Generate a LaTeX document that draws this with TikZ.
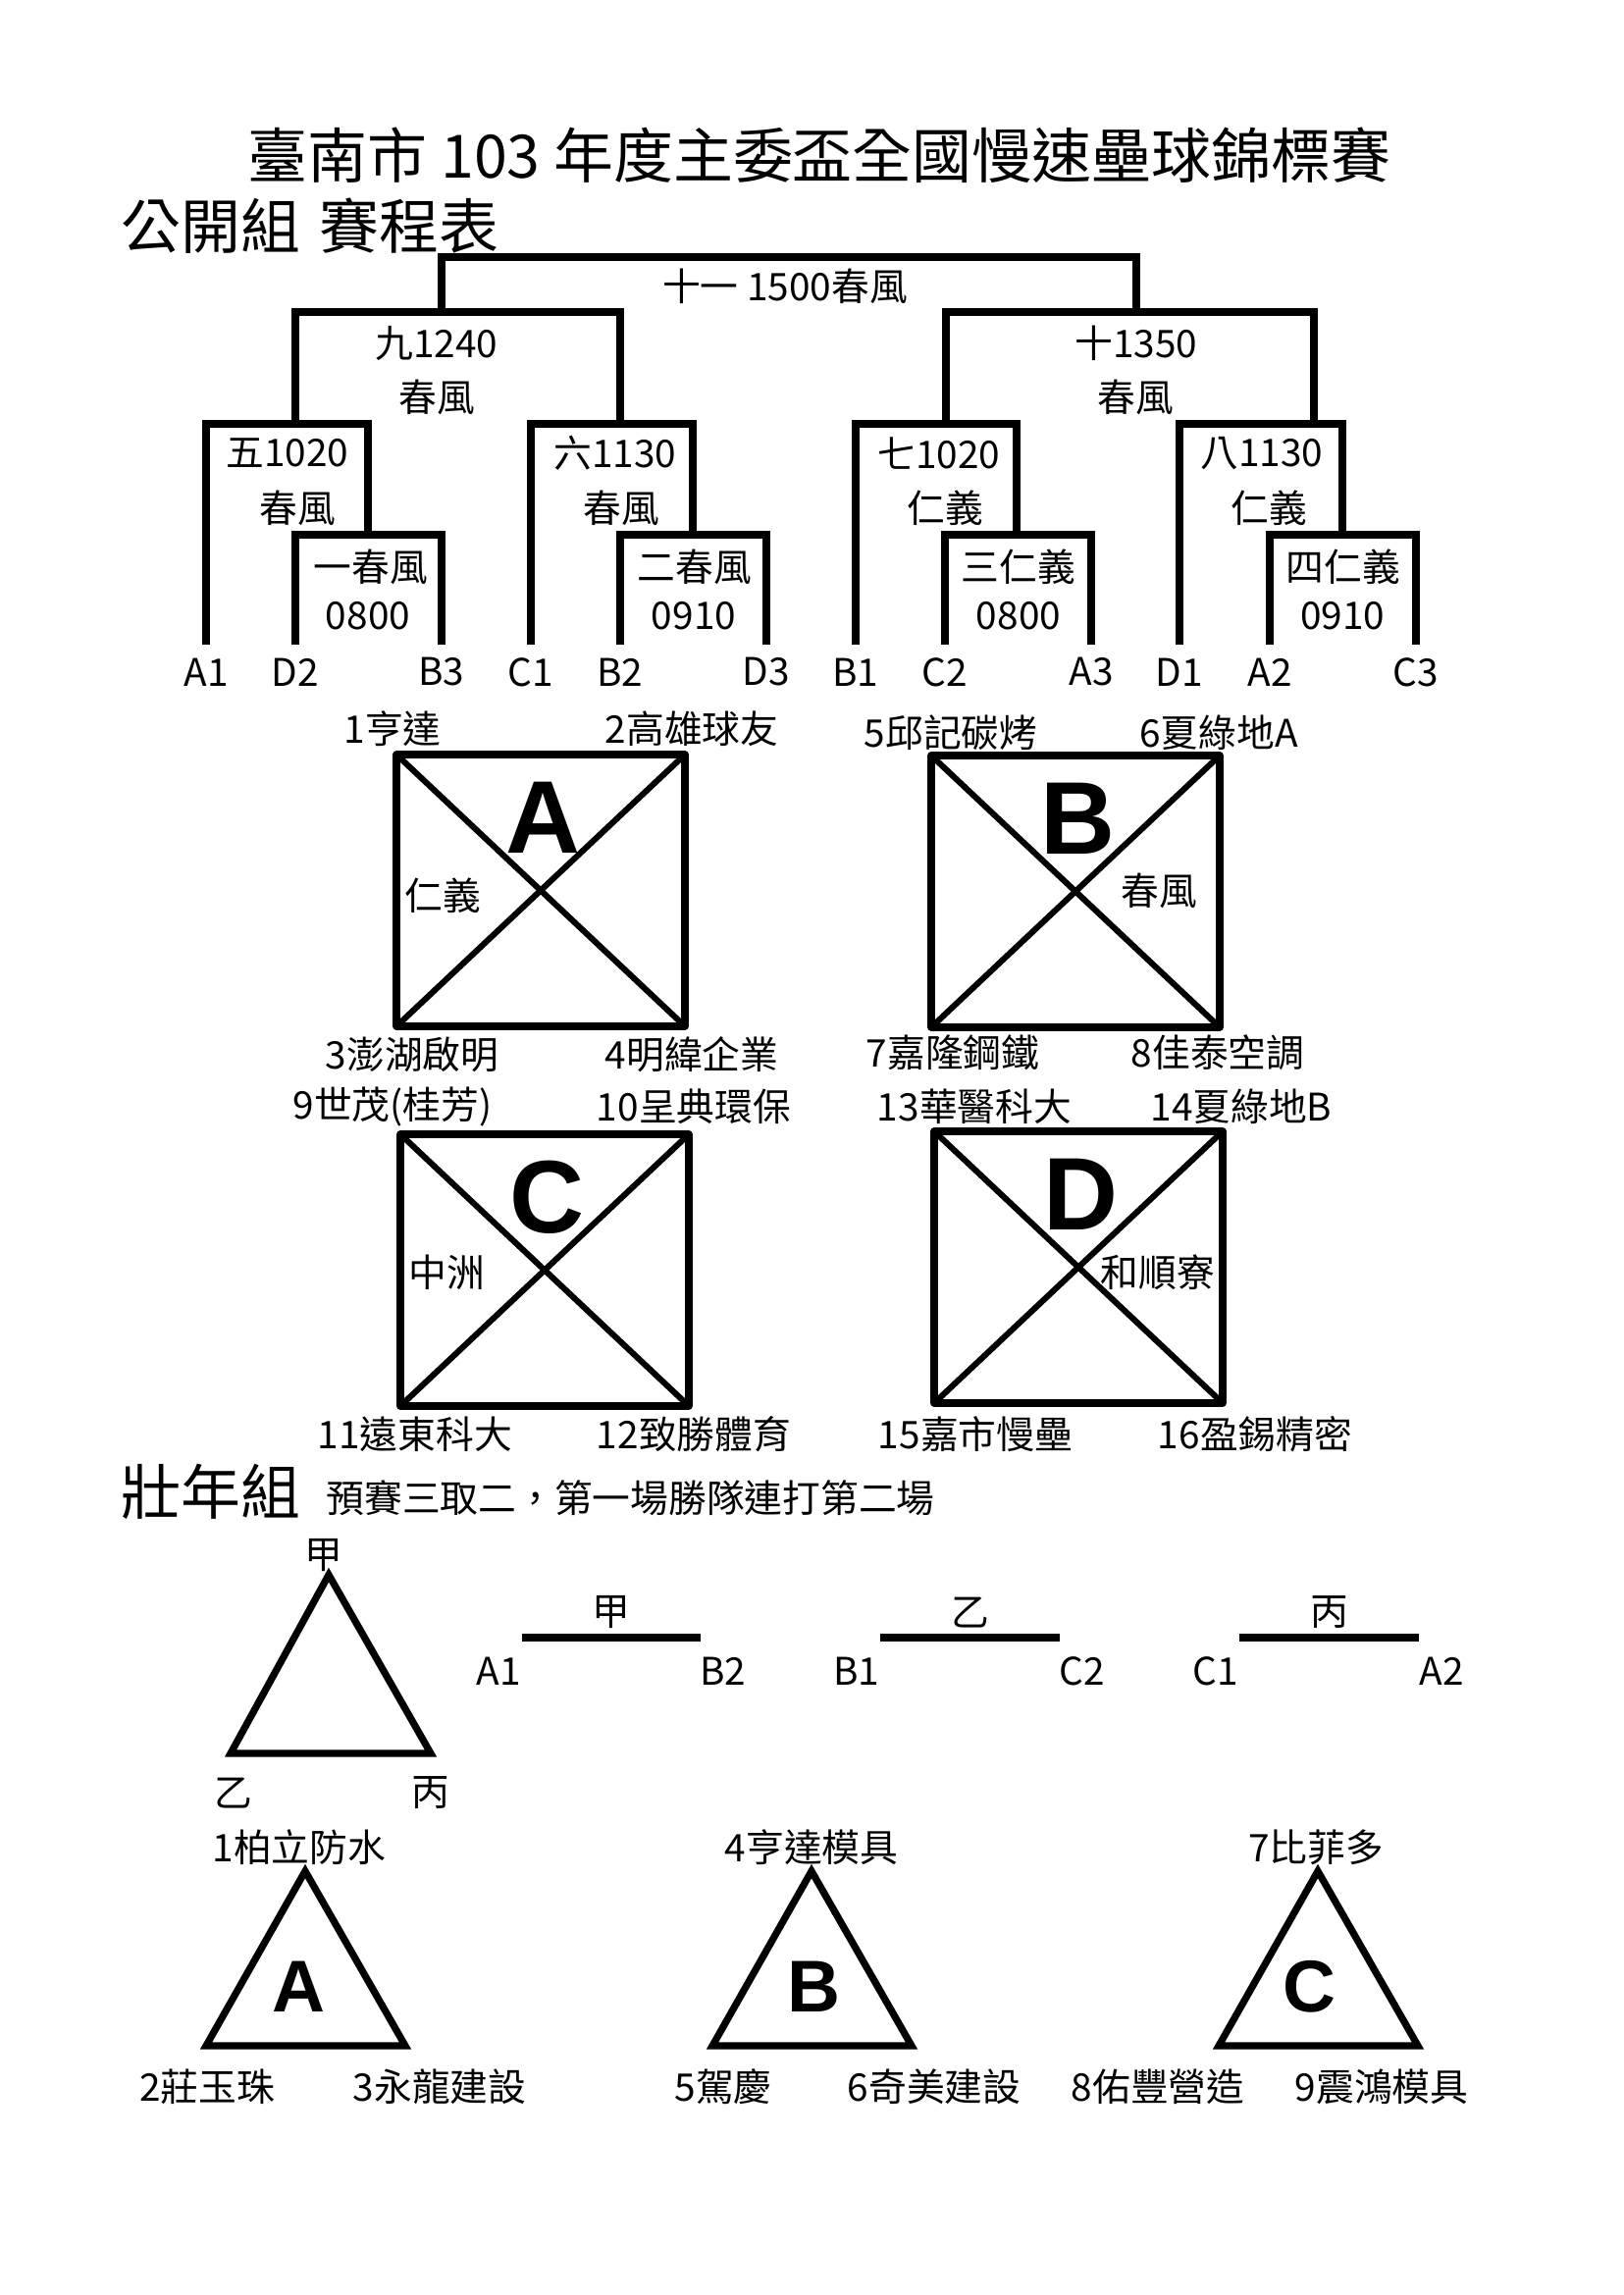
\documentclass[tikz,border=0pt]{standalone}
\usepackage{fontspec}
\setmainfont{Noto Sans CJK TC}
\newfontfamily\grpfont{Liberation Sans}
\tikzset{
	lbl/.style={font=\fontsize{14}{16}\selectfont, inner sep=0pt},
	ttl/.style={font=\fontsize{22}{26}\selectfont, inner sep=0pt},
	grpbig/.style={font=\grpfont\bfseries\fontsize{38}{40}\selectfont, inner sep=0pt},
	grpsmall/.style={font=\grpfont\bfseries\fontsize{27}{30}\selectfont, inner sep=0pt},
	bracket/.style={line width=2.9pt},
	grpbox/.style={line width=2.6pt, line join=round},
	diag/.style={line width=2.2pt},
	triline/.style={line width=2.6pt},
	gameline/.style={line width=3pt}
}
\begin{document}
\begin{tikzpicture}[x=0.12696mm, y=-0.12696mm]
	\useasboundingbox[fill=white] (0,0) rectangle (1654,2339);
	%標題
	\node[ttl] (title) at (835,158) {臺南市 103 年度主委盃全國慢速壘球錦標賽};
	\node[ttl, anchor=west] (open) at (123,230) {公開組\hspace{7pt}賽程表};
	%賽程樹的底端
	\foreach \n/\x in {A1/210,D2/301,B3/450,C1/541,B2/632,D3/781,B1/872,C2/963,A3/1112,D1/1202,A2/1294,C3/1443}
	{\coordinate (\n) at (\x,657); \node[lbl] (t\n) at (\x,685) {\n};}
	%各場比賽的轉折點
	\foreach \n/\x/\y in {g1/375/545,g2/706/545,g3/1036/545,g4/1368/545,g5/301/432,g6/632/432,g7/964/432,g8/1339/432,g9/450/318,g10/1158/318,g11/800/262}
	\coordinate (\n) at (\x,\y);
	%畫賽程樹
	\draw[bracket] (D2) |- (g1) -| (B3);
	\draw[bracket] (B2) |- (g2) -| (D3);
	\draw[bracket] (C2) |- (g3) -| (A3);
	\draw[bracket] (A2) |- (g4) -| (C3);
	\draw[bracket] (A1) |- (g5) -| (g1);
	\draw[bracket] (C1) |- (g6) -| (g2);
	\draw[bracket] (B1) |- (g7) -| (g3);
	\draw[bracket] (D1) |- (g8) -| (g4);
	\draw[bracket] (g5) |- (g9) -| (g6);
	\draw[bracket] (g7) |- (g10) -| (g8);
	\draw[bracket] (g9) |- (g11) -| (g10);
	%場次、時間與場地
	\foreach \t/\x/\y [count=\i] in {十一 1500春風/800/292,九1240/445/350,春風/445/405,十1350/1158/350,春風/1157/405,
		五1020/293/462,春風/303/518,六1130/627/462,春風/633/518,七1020/957/462,仁義/963/518,八1130/1286/462,仁義/1293/518,
		一春風/378/578,0800/375/628,二春風/708/578,0910/707/628,三仁義/1038/578,0800/1038/628,四仁義/1369/578,0910/1368/628}
	\node[lbl] (m\i) at (\x,\y) {\t};
	%分組方塊
	\foreach \g/\x/\y/\v/\vx/\vy in {A/404/769/仁義/451/913,B/949/770/春風/1181/908,C/408/1156/中洲/455/1297,D/952/1153/和順寮/1180/1297}
	{
		\draw[grpbox] (\x,\y) rectangle ++(294,277);
		\draw[diag] (\x,\y) -- ++(294,277) (\x+294,\y) -- ++(-294,277);
		\node[grpbig] (G\g) at (\x+149,\y+64) {\g};
		\node[lbl] (V\g) at (\vx,\vy) {\v};
	}
	%各隊名稱
	\foreach \t/\x/\y [count=\i] in {1亨達/400/743,2高雄球友/705/743,3澎湖啟明/420/1075,4明緯企業/705/1075,
		5邱記碳烤/969/747,6夏綠地A/1242/747,7嘉隆鋼鐵/971/1073,8佳泰空調/1241/1073,
		9世茂(桂芳)/400/1128,10呈典環保/707/1128,11遠東科大/423/1462,12致勝體育/707/1462,
		13華醫科大/993/1128,14夏綠地B/1265/1128,15嘉市慢壘/994/1462,16盈錫精密/1279/1462}
	\node[lbl] (team\i) at (\x,\y) {\t};
	%壯年組
	\node[ttl, anchor=west] (senior) at (123,1520) {壯年組};
	\node[lbl, anchor=west] (rule) at (332,1527) {預賽三取二，第一場勝隊連打第二場};
	\coordinate (p1) at (335,1605);
	\coordinate (p2) at (235,1787);
	\coordinate (p3) at (439,1787);
	\draw[triline] (p1) -- (p2) -- (p3) -- cycle;
	\node[lbl] (n1) at (330,1585) {甲};
	\node[lbl] (n2) at (238,1827) {乙};
	\node[lbl] (n3) at (439,1827) {丙};
	%複賽
	\foreach \t/\l/\r/\a/\b [count=\i] in {甲/532/714/A1/B2,乙/897/1080/B1/C2,丙/1263/1446/C1/A2}
	{
		\coordinate (s\i) at (\l,1669); \coordinate (e\i) at (\r,1669);
		\draw[gameline] (s\i) -- (e\i);
		\node[lbl] (k\i) at ({(\l+\r)/2},1643) {\t};
		\node[lbl] (ka\i) at (\l-24,1703) {\a};
		\node[lbl] (kb\i) at (\r+23,1703) {\b};
	}
	%預賽分組三角形
	\foreach \g/\x/\gx/\ta/\tax/\tb/\tbx/\tc/\tcx in {A/311/304/1柏立防水/305/2莊玉珠/211/3永龍建設/448,
		B/827/829/4亨達模具/827/5駕慶/737/6奇美建設/952,C/1343/1334/7比菲多/1341/8佑豐營造/1180/9震鴻模具/1408}
	{
		\coordinate (T\g) at (\x,1907); \coordinate (L\g) at (\x-101,2085); \coordinate (R\g) at (\x+102,2085);
		\draw[triline] (T\g) -- (L\g) -- (R\g) -- cycle;
		\node[grpsmall] (H\g) at (\gx,2025) {\g};
		\node[lbl] (ha\g) at (\tax,1883) {\ta};
		\node[lbl] (hb\g) at (\tbx,2127) {\tb};
		\node[lbl] (hc\g) at (\tcx,2127) {\tc};
	}
\end{tikzpicture}
\end{document}
